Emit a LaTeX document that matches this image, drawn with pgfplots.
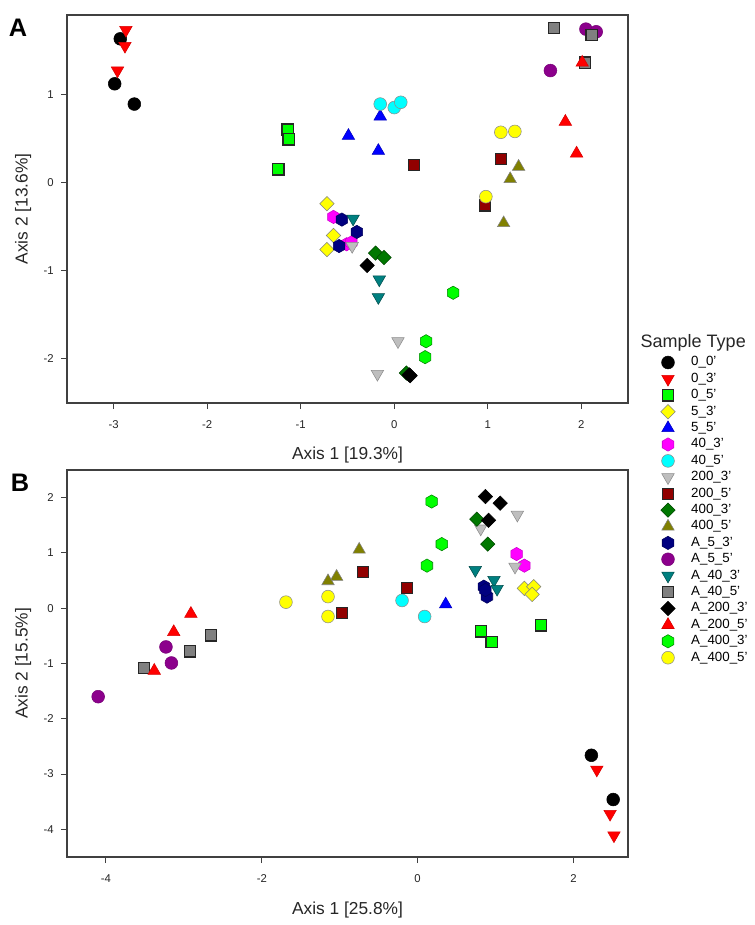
\documentclass[border=0pt]{standalone}
\usepackage{fontspec}
\setmainfont{Liberation Sans}
\usepackage{pgfplots}
\pgfplotsset{compat=1.18}

\definecolor{cLime}{RGB}{0,255,0}
\definecolor{cYellow}{RGB}{255,255,0}
\definecolor{cBlue}{RGB}{0,0,255}
\definecolor{cMagenta}{RGB}{255,0,255}
\definecolor{cCyan}{RGB}{0,255,255}
\definecolor{cSilver}{RGB}{190,190,190}
\definecolor{cDarkred}{RGB}{145,0,0}
\definecolor{cDgreen}{RGB}{0,120,0}
\definecolor{cOlive}{RGB}{128,128,0}
\definecolor{cNavy}{RGB}{0,0,128}
\definecolor{cPurple}{RGB}{140,0,140}
\definecolor{cTeal}{RGB}{0,128,128}
\definecolor{cGray}{RGB}{128,128,128}
\definecolor{cRed}{RGB}{255,0,0}

% hexagon, square diamond and downward triangle marks
\pgfdeclareplotmark{hexagon*}{%
  \pgfpathmoveto{\pgfqpointpolar{90}{\pgfplotmarksize}}%
  \pgfpathlineto{\pgfqpointpolar{150}{\pgfplotmarksize}}%
  \pgfpathlineto{\pgfqpointpolar{210}{\pgfplotmarksize}}%
  \pgfpathlineto{\pgfqpointpolar{270}{\pgfplotmarksize}}%
  \pgfpathlineto{\pgfqpointpolar{330}{\pgfplotmarksize}}%
  \pgfpathlineto{\pgfqpointpolar{30}{\pgfplotmarksize}}%
  \pgfpathclose
  \pgfusepathqfillstroke}
\pgfdeclareplotmark{sdiamond*}{%
  \pgfpathmoveto{\pgfqpoint{0pt}{\pgfplotmarksize}}%
  \pgfpathlineto{\pgfqpoint{\pgfplotmarksize}{0pt}}%
  \pgfpathlineto{\pgfqpoint{0pt}{-\pgfplotmarksize}}%
  \pgfpathlineto{\pgfqpoint{-\pgfplotmarksize}{0pt}}%
  \pgfpathclose
  \pgfusepathqfillstroke}
\pgfdeclareplotmark{dtriangle*}{%
  \pgfpathmoveto{\pgfqpointpolar{270}{\pgfplotmarksize}}%
  \pgfpathlineto{\pgfqpointpolar{30}{\pgfplotmarksize}}%
  \pgfpathlineto{\pgfqpointpolar{150}{\pgfplotmarksize}}%
  \pgfpathclose
  \pgfusepathqfillstroke}

\pgfplotsset{
  pcommon/.style={
    scale only axis, width=420.75pt,
    axis line style={black!75, line width=0.8pt},
    tick style={black!75, line width=0.8pt},
    tick align=outside, tick pos=left, major tick length=4.5pt,
    ticklabel style={font=\fontsize{8.5}{10}\selectfont, text=black!85},
    xticklabel shift=5pt, yticklabel shift=2pt,
    label style={font=\fontsize{13}{15}\selectfont, text=black!85},
  },
  s1/.style={only marks, mark=*, mark size=4.8pt, draw=black, fill=black, line width=0.4pt},
  s2/.style={only marks, mark=dtriangle*, mark size=5.4pt, draw=cRed!85!black, fill=cRed, line width=0.4pt},
  s3/.style={only marks, mark=square*, mark size=4.2pt, draw=black!85, fill=cLime, line width=0.9pt},
  s4/.style={only marks, mark=sdiamond*, mark size=5.4pt, draw=black!50, fill=cYellow, line width=0.4pt},
  s5/.style={only marks, mark=triangle*, mark size=5.4pt, draw=cBlue!75!black, fill=cBlue, line width=0.4pt},
  s6/.style={only marks, mark=hexagon*, mark size=5pt, draw=cMagenta!80!black, fill=cMagenta, line width=0.4pt},
  s7/.style={only marks, mark=*, mark size=4.8pt, draw=black!45, fill=cCyan, line width=0.4pt},
  s8/.style={only marks, mark=dtriangle*, mark size=5.4pt, draw=black!45, fill=cSilver, line width=0.4pt},
  s9/.style={only marks, mark=square*, mark size=4.2pt, draw=black!85, fill=cDarkred, line width=0.9pt},
  s10/.style={only marks, mark=sdiamond*, mark size=5.4pt, draw=cDgreen!60!black, fill=cDgreen, line width=0.4pt},
  s11/.style={only marks, mark=triangle*, mark size=5.4pt, draw=black!50, fill=cOlive, line width=0.4pt},
  s12/.style={only marks, mark=hexagon*, mark size=5pt, draw=cNavy!70!black, fill=cNavy, line width=0.4pt},
  s13/.style={only marks, mark=*, mark size=4.8pt, draw=cPurple!85!black, fill=cPurple, line width=0.4pt},
  s14/.style={only marks, mark=dtriangle*, mark size=5.4pt, draw=cTeal!60!black, fill=cTeal, line width=0.4pt},
  s15/.style={only marks, mark=square*, mark size=4.2pt, draw=black!85, fill=cGray, line width=0.9pt},
  s16/.style={only marks, mark=sdiamond*, mark size=5.4pt, draw=black, fill=black, line width=0.4pt},
  s17/.style={only marks, mark=triangle*, mark size=5.4pt, draw=cRed!85!black, fill=cRed, line width=0.4pt},
  s18/.style={only marks, mark=hexagon*, mark size=5pt, draw=cLime!50!black, fill=cLime, line width=0.4pt},
  s19/.style={only marks, mark=*, mark size=4.8pt, draw=black!45, fill=cYellow, line width=0.4pt},
}

\begin{document}
\begin{tikzpicture}
\useasboundingbox (0,-693.75pt) rectangle (565.5pt,0pt);

% ---------- panel A ----------
\begin{axis}[pcommon,
  at={(50.25pt,-302.25pt)}, anchor=south west, height=291pt,
  xmin=-3.5, xmax=2.5, ymin=-2.5, ymax=1.9,
  xtick={-3,-2,-1,0,1,2}, xticklabels={-3,-2,-1,0,1,2},
  ytick={-2,-1,0,1}, yticklabels={-2,-1,0,1},
  xlabel={Axis 1 [19.3\%]}, ylabel={Axis 2 [13.6\%]},
  xlabel style={at={(axis description cs:0.5,-0.133)}, anchor=center},
  ylabel style={at={(axis description cs:-0.078,0.5)}, anchor=center},
  legend cell align=left,
  legend style={at={(1.058,0.124)}, anchor=north west, draw=none, fill=none,
    font=\fontsize{10}{11}\selectfont, row sep=1.3pt, column sep=11pt, inner sep=0pt,
    nodes={inner sep=1pt, text height=7pt, text depth=2pt}},
]
\addplot[s1] coordinates {(-2.93,1.63) (-2.99,1.12) (-2.78,0.89)};
\addplot[s2] coordinates {(-2.87,1.73) (-2.88,1.55) (-2.96,1.27)};
\addplot[s3] coordinates {(-1.14,0.60) (-1.13,0.49) (-1.24,0.15)};
\addplot[s4] coordinates {(-0.72,-0.24) (-0.65,-0.60) (-0.72,-0.76)};
\addplot[s5] coordinates {(-0.49,0.53) (-0.15,0.75) (-0.17,0.36)};
\addplot[s6] coordinates {(-0.65,-0.39) (-0.51,-0.70) (-0.46,-0.68)};
\addplot[s7] coordinates {(-0.15,0.89) (0.00,0.85) (0.07,0.91)};
\addplot[s8] coordinates {(-0.45,-0.72) (0.04,-1.80) (-0.18,-2.17)};
\addplot[s9] coordinates {(0.21,0.20) (1.14,0.27) (0.97,-0.26)};
\addplot[s10] coordinates {(-0.20,-0.80) (-0.11,-0.85) (0.13,-2.16)};
\addplot[s11] coordinates {(1.33,0.18) (1.24,0.04) (1.17,-0.46)};
\addplot[s12] coordinates {(-0.56,-0.42) (-0.40,-0.56) (-0.59,-0.72)};
\addplot[s13] coordinates {(2.05,1.74) (2.16,1.71) (1.67,1.27)};
\addplot[s14] coordinates {(-0.44,-0.41) (-0.16,-1.10) (-0.17,-1.30)};
\addplot[s15] coordinates {(1.71,1.75) (2.11,1.67) (2.04,1.36)};
\addplot[s16] coordinates {(-0.29,-0.94) (0.16,-2.18) (0.17,-2.19)};
\addplot[s17] coordinates {(2.01,1.36) (1.83,0.69) (1.95,0.33)};
\addplot[s18] coordinates {(0.63,-1.25) (0.34,-1.80) (0.33,-1.98)};
\addplot[s19] coordinates {(1.14,0.57) (1.29,0.58) (0.98,-0.16)};
\legend{0\_0',0\_3',0\_5',5\_3',5\_5',40\_3',40\_5',200\_3',200\_5',400\_3',400\_5',
  A\_5\_3',A\_5\_5',A\_40\_3',A\_40\_5',A\_200\_3',A\_200\_5',A\_400\_3',A\_400\_5'}
\end{axis}

% ---------- panel B ----------
\begin{axis}[pcommon,
  at={(50.25pt,-642.75pt)}, anchor=south west, height=290.25pt,
  xmin=-4.5, xmax=2.7, ymin=-4.5, ymax=2.5,
  xtick={-4,-2,0,2}, xticklabels={-4,-2,0,2},
  ytick={-4,-3,-2,-1,0,1,2}, yticklabels={-4,-3,-2,-1,0,1,2},
  xlabel={Axis 1 [25.8\%]}, ylabel={Axis 2 [15.5\%]},
  xlabel style={at={(axis description cs:0.5,-0.138)}, anchor=center},
  ylabel style={at={(axis description cs:-0.078,0.5)}, anchor=center},
]
\addplot[s1] coordinates {(2.23,-2.66) (2.51,-3.46)};
\addplot[s2] coordinates {(2.30,-2.92) (2.47,-3.72) (2.52,-4.11)};
\addplot[s3] coordinates {(0.81,-0.42) (0.95,-0.61) (1.58,-0.31)};
\addplot[s4] coordinates {(1.37,0.36) (1.49,0.39) (1.47,0.25)};
\addplot[s5] coordinates {(0.36,0.07)};
\addplot[s6] coordinates {(1.27,0.98) (1.37,0.77)};
\addplot[s7] coordinates {(-0.20,0.14) (0.09,-0.15)};
\addplot[s8] coordinates {(1.28,1.69) (0.81,1.44) (1.25,0.75)};
\addplot[s9] coordinates {(-0.70,0.65) (-0.97,-0.09) (-0.14,0.37)};
\addplot[s10] coordinates {(0.76,1.61) (0.90,1.16)};
\addplot[s11] coordinates {(-0.75,1.06) (-1.04,0.57) (-1.15,0.49)};
\addplot[s12] coordinates {(0.85,0.39) (0.89,0.21) (0.87,0.33)};
\addplot[s13] coordinates {(-3.23,-0.70) (-3.16,-0.99) (-4.10,-1.60)};
\addplot[s14] coordinates {(0.74,0.69) (0.98,0.51) (1.02,0.35)};
\addplot[s15] coordinates {(-2.65,-0.49) (-2.92,-0.78) (-3.51,-1.08)};
\addplot[s16] coordinates {(0.87,2.02) (1.06,1.90) (0.91,1.59)};
\addplot[s17] coordinates {(-2.91,-0.10) (-3.13,-0.43) (-3.38,-1.13)};
\addplot[s18] coordinates {(0.18,1.93) (0.31,1.16) (0.12,0.77)};
\addplot[s19] coordinates {(-1.69,0.11) (-1.15,0.21) (-1.15,-0.15)};
\end{axis}

\node[anchor=west, font=\fontsize{13.5}{15}\selectfont, text=black!85] at (477pt,-257.25pt) {Sample Type};
\node[font=\bfseries\fontsize{19}{21}\selectfont] at (13.5pt,-21pt) {A};
\node[font=\bfseries\fontsize{19}{21}\selectfont] at (15pt,-362pt) {B};
\end{tikzpicture}
\end{document}
